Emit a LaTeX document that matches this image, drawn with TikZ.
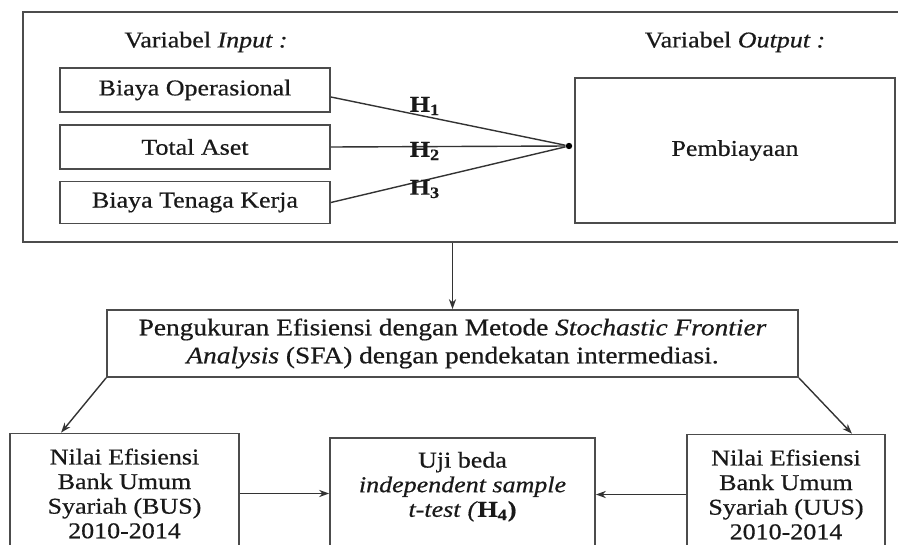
\documentclass[tikz,border=0pt]{standalone}
\usepackage{fontspec}
\setmainfont{Liberation Serif}[FakeStretch=1.15,FakeBold=0.6]
\usetikzlibrary{arrows.meta}

\begin{document}
\begin{tikzpicture}
	[x=0.5pt,y=-0.5pt,font=\fontsize{11.3}{12.3}\selectfont,text=black!90,
	 box/.style={draw=black!70, line width=0.9pt, inner sep=0pt, align=center},
	 link/.style={line width=0.7pt, draw=black!80},
	 hyp/.style={font=\fontsize{11.3}{12}\selectfont\bfseries, inner sep=0pt},
	 >={Stealth[length=5pt,width=3.6pt]}]
	\clip (0,0) rectangle (898,545);
	% upper frame with the variables
	\node (frame) [box, minimum width=441pt, minimum height=115pt] at (464,127) {};
	\node (inlab) at (206,42) {Variabel \textit{Input :}};
	\node (outlab) at (735,42) {Variabel \textit{Output :}};
	\node (bo) [box, minimum width=135pt, minimum height=22pt] at (195,90) {Biaya Operasional};
	\node (ta) [box, minimum width=135pt, minimum height=22pt] at (195,147) {Total Aset};
	\node (btk) [box, minimum width=135pt, minimum height=21pt] at (195,202.5) {Biaya Tenaga Kerja};
	\node (pb) [box, minimum width=160pt, minimum height=72.5pt] at (735,150.5) {Pembiayaan};
	\node (jn) [circle, fill=black, inner sep=0pt, minimum size=3.2pt] at (569,146) {};
	\draw [link] ([yshift=-3.5pt]bo.east) -- (jn);
	\draw [link] (ta.east) -- (jn);
	\draw [link] (btk.east) -- (jn);
	\node (h1) [hyp] at (425,106) {H\textsubscript{1}};
	\node (h2) [hyp] at (425,151) {H\textsubscript{2}};
	\node (h3) [hyp] at (425,189) {H\textsubscript{3}};
	% measurement
	\node (sfa) [box, minimum width=345.5pt, minimum height=33.5pt, font=\fontsize{11.9}{14}\selectfont] at (452.5,343.5)
		{Pengukuran Efisiensi dengan Metode \textit{Stochastic Frontier}\\\textit{Analysis} (SFA) dengan pendekatan intermediasi.};
	\draw [link,->] (sfa.north |- frame.south) -- (sfa.north);
	% efficiency values and test
	\node (bus) [box, minimum width=114.5pt, minimum height=60pt] at (124.5,493.5)
		{Nilai Efisiensi\\Bank Umum\\Syariah (BUS)\\2010-2014};
	\node (uus) [box, minimum width=99pt, minimum height=60pt] at (786,494.5)
		{Nilai Efisiensi\\Bank Umum\\Syariah (UUS)\\2010-2014};
	\node (uji) [box, anchor=north, minimum width=132.5pt, inner ysep=7pt, text depth=30pt] at (462.5,437)
		{Uji beda\\\textit{independent sample}\\\textit{t-test} \textit{(}\textbf{H\textsubscript{4})}};
	\draw [link,->] (sfa.south west) -- ([xshift=26pt]bus.north west);
	\draw [link,->] (sfa.south east) -- ([xshift=-17pt]uus.north east);
	\draw [link,->] (bus.east) -- (bus.east -| uji.west);
	\draw [link,->] (uus.west) -- (uus.west -| uji.east);
\end{tikzpicture}
\end{document}
